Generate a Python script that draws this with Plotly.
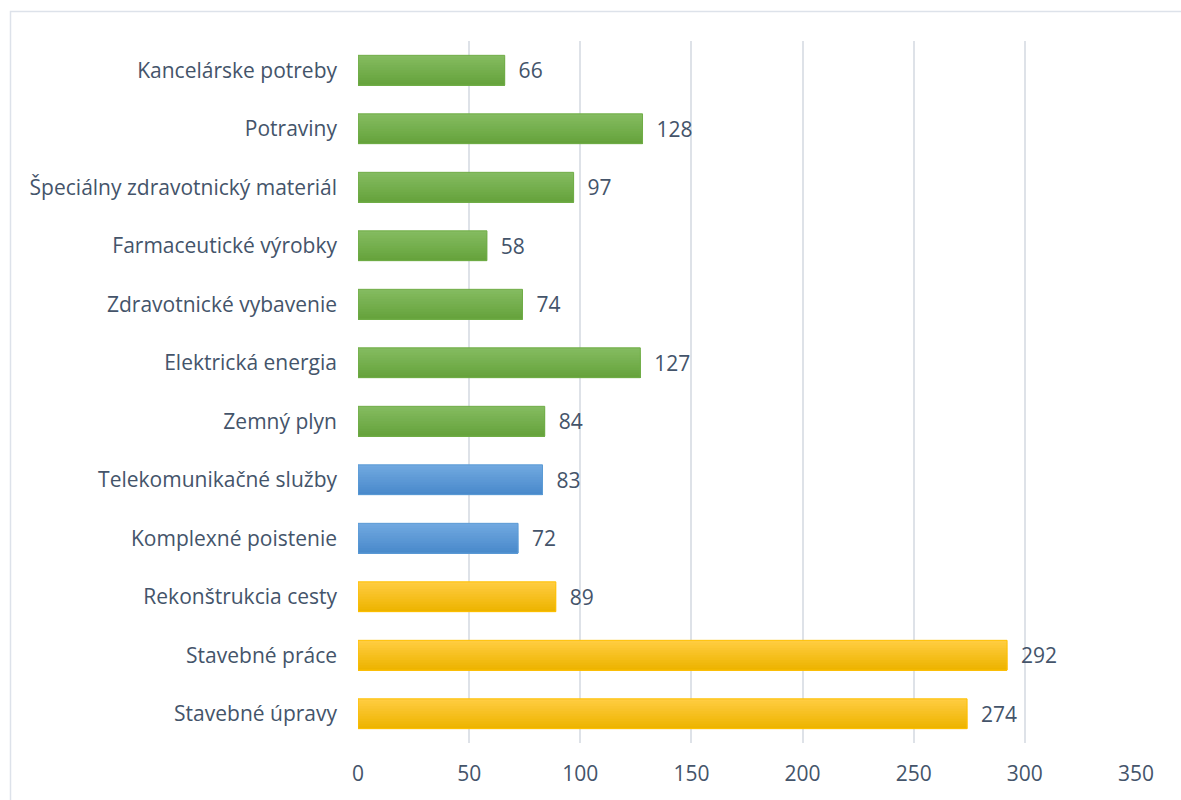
import numpy as np
import plotly.graph_objects as go

# Categories listed top to bottom as shown on the chart
categories = [
    "Kancelárske potreby",
    "Potraviny",
    "Špeciálny zdravotnický materiál",
    "Farmaceutické výrobky",
    "Zdravotnické vybavenie",
    "Elektrická energia",
    "Zemný plyn",
    "Telekomunikačné služby",
    "Komplexné poistenie",
    "Rekonštrukcia cesty",
    "Stavebné práce",
    "Stavebné úpravy",
]
values = [66, 128, 97, 58, 74, 127, 84, 83, 72, 89, 292, 274]
groups = ["tovary"] * 7 + ["sluzby"] * 2 + ["prace"] * 3

x_ticks = [0, 50, 100, 150, 200, 250, 300, 350]

# Gradient (top colour, bottom colour) and outline colour per group
palette = {
    "tovary": ((0x84, 0xBB, 0x60), (0x66, 0xA3, 0x3C), "#70AD47"),
    "sluzby": ((0x70, 0xA8, 0xE0), (0x4A, 0x8A, 0xCB), "#5B9BD5"),
    "prace": ((0xFF, 0xCC, 0x40), (0xED, 0xB4, 0x00), "#FFC000"),
}

TEXT = "#44546A"
GRID = "#DEE2E8"
FONT = "'Open Sans', Lato, sans-serif"
FS = 21

BAR_W = 0.51
N_STEPS = 12
half = BAR_W / 2

fig = go.Figure()

# Layered bars: each step covers from its top edge down to the bar bottom,
# stepping from the light top colour to the darker bottom colour.
for k in range(N_STEPS):
    t = k / (N_STEPS - 1)
    cols = []
    for g in groups:
        top, bot, _ = palette[g]
        c = [int(round(a + (b - a) * t)) for a, b in zip(top, bot)]
        cols.append(f"rgb({c[0]},{c[1]},{c[2]})")
    step = BAR_W / N_STEPS
    fig.add_trace(go.Bar(
        y=categories, x=values, orientation="h",
        offset=-half + k * step, width=BAR_W - k * step,
        marker=dict(color=cols, line=dict(width=0)),
        hoverinfo="skip", showlegend=False,
    ))

# Outline + value labels
fig.add_trace(go.Bar(
    y=categories, x=values, orientation="h",
    offset=-half, width=BAR_W,
    marker=dict(color="rgba(0,0,0,0)",
                line=dict(color=[palette[g][2] for g in groups], width=1)),
    text=[f"  {v}" for v in values],
    textposition="outside", cliponaxis=False,
    textfont=dict(family=FONT, size=FS, color=TEXT),
    showlegend=False,
))

W, H = 1181, 800
L, R, T, B = 358, 45, 41, 57
pw, ph = W - L - R, H - T - B

def px_to_paper_x(px):
    return (px - L) / pw

def px_to_paper_y(py):
    return (H - B - py) / ph

fig.update_layout(
    width=W, height=H,
    margin=dict(l=L, r=R, t=T, b=B),
    paper_bgcolor="white", plot_bgcolor="white",
    barmode="overlay",
    font=dict(family=FONT, size=FS, color=TEXT),
    xaxis=dict(
        range=[0, 350], tickvals=x_ticks, showgrid=True, gridcolor=GRID,
        gridwidth=1.5, zeroline=False, showline=False,
        tickfont=dict(family=FONT, size=FS, color=TEXT),
        ticklabelstandoff=16, fixedrange=True,
    ),
    yaxis=dict(
        categoryorder="array", categoryarray=categories,
        autorange="reversed", showgrid=False, zeroline=False, showline=False,
        tickfont=dict(family=FONT, size=FS, color=TEXT),
        ticklabelstandoff=20, fixedrange=True,
    ),
    shapes=[dict(
        type="rect", xref="paper", yref="paper",
        x0=px_to_paper_x(10.5), x1=px_to_paper_x(1190),
        y0=px_to_paper_y(810), y1=px_to_paper_y(11.5),
        line=dict(color="#DDE2EA", width=1.5), fillcolor="rgba(0,0,0,0)",
        layer="below",
    )],
)

fig.write_html("out.html")
